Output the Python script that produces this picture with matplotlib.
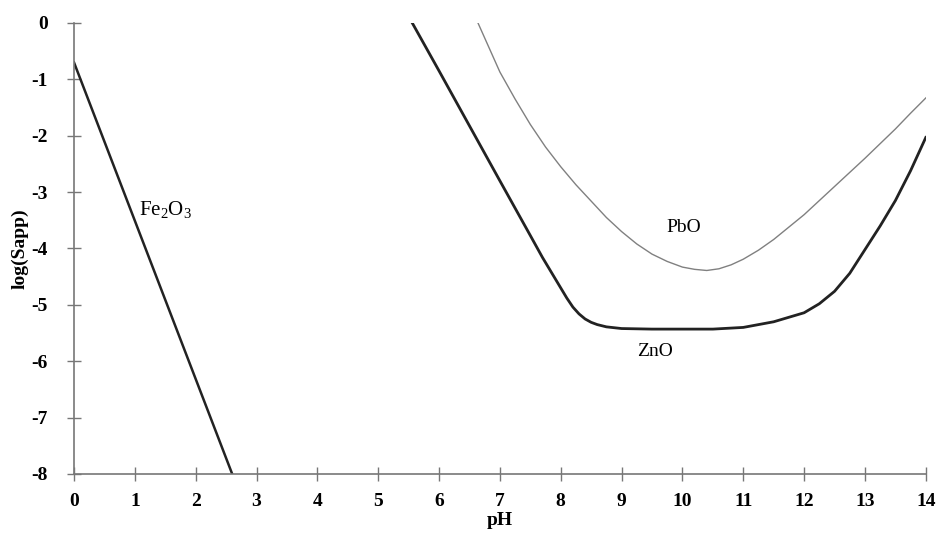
import matplotlib
matplotlib.use("Agg")
import matplotlib.pyplot as plt
import numpy as np

plt.rcParams['font.family'] = ['Liberation Serif', 'DejaVu Serif']
plt.rcParams['mathtext.fontset'] = 'custom'
plt.rcParams['mathtext.rm'] = 'Liberation Serif'
plt.rcParams['mathtext.it'] = 'Liberation Serif:italic'
plt.rcParams['axes.unicode_minus'] = False

# curves
fe_ph = [0.0, 2.6]
fe_log = [-0.7, -8.0]

zn_ph = [5.56, 6.0, 7.0, 7.5, 7.7, 7.9, 8.0, 8.1, 8.2, 8.3, 8.4, 8.5, 8.6, 8.75, 9.0, 9.5, 10.0, 10.5,
         11.0, 11.5, 12.0, 12.25, 12.5, 12.75, 13.0, 13.25, 13.5, 13.75, 14.0]
zn_log = [0.0, -0.85, -2.8, -3.77, -4.16, -4.52, -4.7, -4.88, -5.04, -5.16, -5.25, -5.31, -5.35, -5.39, -5.42, -5.43, -5.43, -5.43,
          -5.4, -5.3, -5.14, -4.98, -4.76, -4.44, -4.02, -3.6, -3.15, -2.62, -2.03]

pb_ph = [6.64, 7.0, 7.25, 7.5, 7.75, 8.0, 8.25, 8.5, 8.75, 9.0, 9.25, 9.5, 9.75, 10.0, 10.2, 10.4, 10.6, 10.8,
         11.0, 11.25, 11.5, 11.75, 12.0, 12.25, 12.5, 12.75, 13.0, 13.25, 13.5, 13.75, 14.0]
pb_log = [0.0, -0.87, -1.35, -1.8, -2.2, -2.55, -2.87, -3.16, -3.45, -3.7, -3.92, -4.1, -4.23, -4.33, -4.37, -4.39, -4.36, -4.29,
          -4.19, -4.03, -3.84, -3.62, -3.4, -3.15, -2.9, -2.65, -2.4, -2.14, -1.88, -1.6, -1.33]

fig = plt.figure(figsize=(9.38, 5.36), dpi=100)
ax = fig.add_axes([0.0789, 0.1157, 0.9081, 0.8414])

ax.plot(fe_ph, fe_log, color='#222222', lw=1.8)
ax.plot(zn_ph, zn_log, color='#222222', lw=2.0)
ax.plot(pb_ph, pb_log, color='#808080', lw=1.0)

ax.text(1.5, -3.3, r'Fe$_2$O$_3$', fontsize=15, ha='center', va='center')
ax.text(10.02, -3.63, 'PbO', fontsize=14, ha='center', va='center')
ax.text(9.55, -5.82, 'ZnO', fontsize=14, ha='center', va='center')

ax.set_xlim(0, 14)
ax.set_ylim(-8, 0)
ax.set_xticks(np.arange(0, 15))
ax.set_yticks(np.arange(-8, 1))
for s in ['top', 'right']:
    ax.spines[s].set_visible(False)
for s in ['left', 'bottom']:
    ax.spines[s].set_color('#777777')
    ax.spines[s].set_linewidth(1.2)
ax.tick_params(axis='both', direction='inout', length=10, color='#777777', width=1.0, labelsize=14)
ax.tick_params(axis='x', pad=9)
ax.tick_params(axis='y', pad=14)
for lab in ax.get_xticklabels() + ax.get_yticklabels():
    lab.set_fontweight('bold')

ax.set_xlabel('pH', fontsize=14, fontweight='bold', labelpad=1)
ax.set_ylabel('log(Sapp)', fontsize=14, fontweight='bold', labelpad=2)

fig.savefig('out.png', dpi=100)
